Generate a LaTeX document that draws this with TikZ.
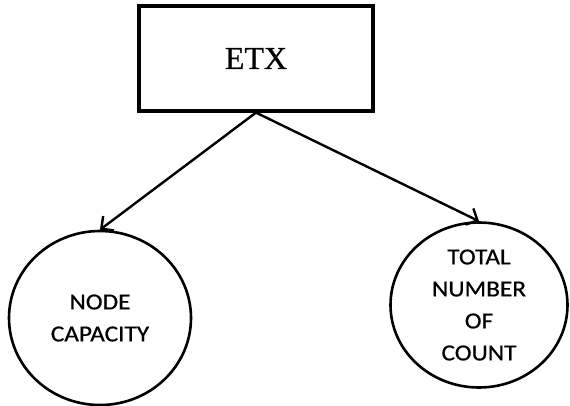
\documentclass[tikz,border=0pt]{standalone}
\usepackage{fontspec}
\setmainfont{Liberation Serif}[FakeBold=0.5]
\newfontfamily\lblfont[FakeStretch=1.1,FakeBold=0.6]{Carlito}
\usetikzlibrary{shapes.geometric,arrows.meta}

\begin{document}
\begin{tikzpicture}[x=1pt,y=-1pt,
            topbox/.style={draw=black, line width=3.2pt, minimum width=234pt, minimum height=105pt, inner sep=0pt, font=\fontsize{32}{36}\selectfont},
            leafnode/.style={draw=black, ellipse, line width=2.6pt, inner sep=0pt, align=center, font=\lblfont\fontsize{23}{32}\selectfont},
            link/.style={draw=black, line width=2.4pt, -{Straight Barb[length=9pt,width=18pt,line width=2.4pt]}}]
            \useasboundingbox (0,0) rectangle (570,405);
            \node [topbox] (etx) at (256,58.5) {ETX};
            \node [leafnode, minimum width=182pt, minimum height=174pt] (capacity) at (100,318) {NODE\\CAPACITY};
            \node [leafnode, minimum width=177pt, minimum height=165pt] (count) at (479,305) {TOTAL\\NUMBER\\OF\\COUNT};
            \draw [link] (etx.south) -- (capacity.north);
            \draw [link] (etx.south) -- (count.north);
        \end{tikzpicture}
\end{document}
